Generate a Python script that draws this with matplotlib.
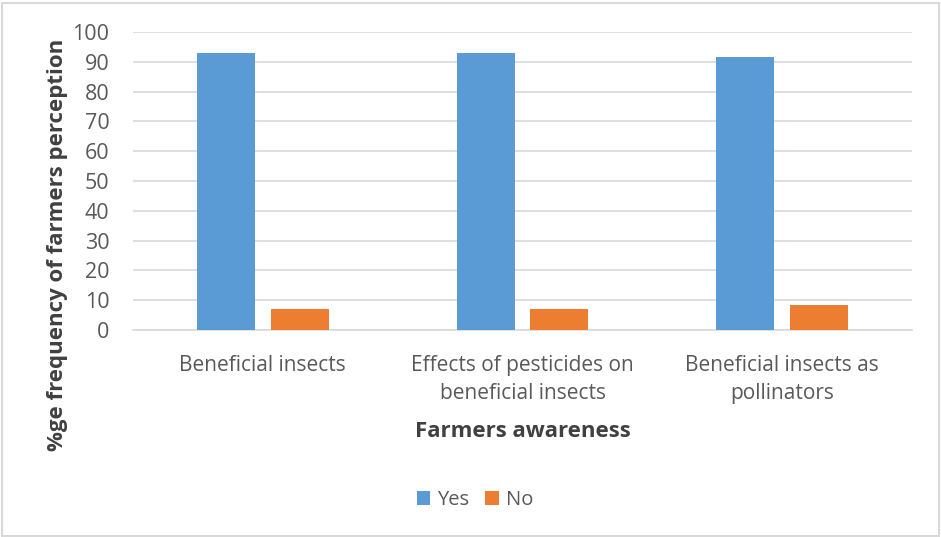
import numpy as np
import matplotlib.pyplot as plt

categories = ["Beneficial insects",
              "Effects of pesticides on\nbeneficial insects",
              "Beneficial insects as\npollinators"]
yes_vals = [93, 93, 91.5]
no_vals = [7, 7, 8.5]
yticks = list(range(0, 101, 10))

plt.rcParams['font.family'] = ['Open Sans', 'DejaVu Sans']

fig = plt.figure(figsize=(9.41, 5.37), dpi=100)
ax = fig.add_axes([133 / 941, 1 - 330 / 537, (912 - 133) / 941, (330 - 32) / 537])

x = np.arange(len(categories))
w = 0.223
ax.bar(x - 0.142, yes_vals, w, color='#5b9bd5', label='Yes', zorder=3)
ax.bar(x + 0.142, no_vals, w, color='#ed7d31', label='No', zorder=3)

ax.set_xlim(-0.5, 2.5)
ax.set_ylim(0, 100)
ax.set_yticks(yticks)
ax.set_xticks(x)
ax.set_xticklabels(categories, fontsize=15, color='#595959', linespacing=1.45)
ax.tick_params(axis='y', labelsize=15.5, labelcolor='#595959', length=0, pad=17)
ax.tick_params(axis='x', length=0, pad=18)
ax.grid(axis='y', color='#d9d9d9', linewidth=1.2, zorder=0)
for s in ['top', 'right', 'left']:
    ax.spines[s].set_visible(False)
ax.spines['bottom'].set_color('#d9d9d9')
ax.spines['bottom'].set_linewidth(1.2)

ax.set_ylabel('%ge frequency of farmers perception', fontsize=16,
              fontweight='bold', color='#404040')
ax.yaxis.set_label_coords(-0.083, 0.285)
ax.set_xlabel('Farmers awareness', fontsize=16, fontweight='bold', color='#404040')
ax.xaxis.set_label_coords(0.5, -0.305)

leg = fig.legend(loc='center', bbox_to_anchor=(475 / 941, 1 - 500 / 537), ncol=2,
                 frameon=False, fontsize=14.5, handlelength=0.65, handleheight=0.65,
                 columnspacing=0.8, handletextpad=0.35)
for t in leg.get_texts():
    t.set_color('#595959')

fig.patches.append(plt.Rectangle((0.002, 0.002), 0.996, 0.993, transform=fig.transFigure,
                                 fill=False, edgecolor='#d9d9d9', linewidth=1.5))

fig.savefig('out.png', dpi=100)
